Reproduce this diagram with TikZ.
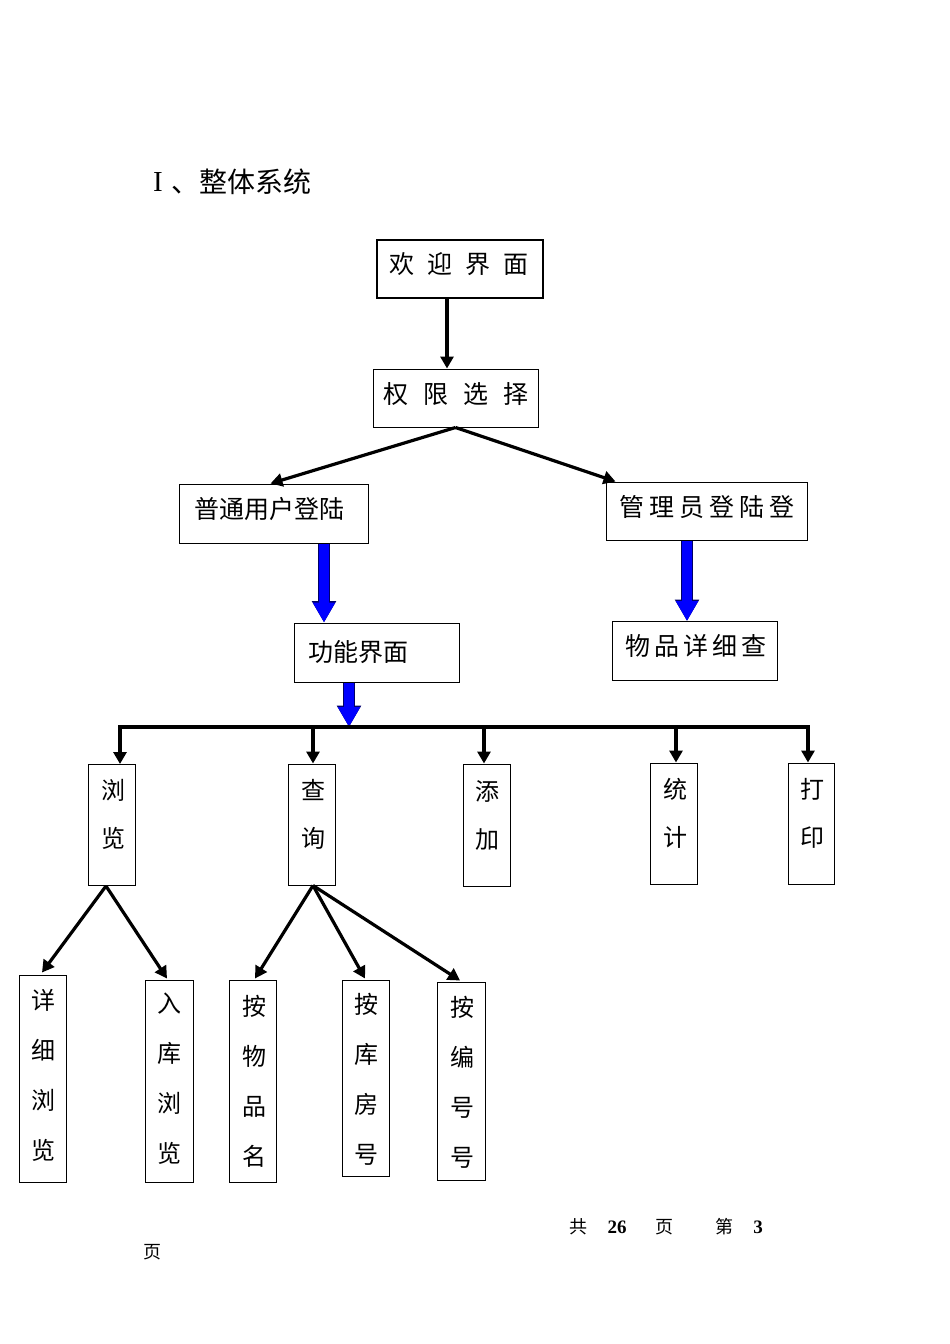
\documentclass[tikz,border=0pt]{standalone}
\usepackage{fontspec}
\setmainfont{Liberation Serif}
\newfontfamily\cjk{Noto Sans CJK SC}
\usetikzlibrary{arrows.meta,calc}
\newcommand\mygap[1]{\hspace{#1pt}}
\begin{document}
\begin{tikzpicture}[x=1pt,y=-1pt,
  box/.style={draw, line width=1pt, inner sep=0pt},
  ht/.style={font=\cjk\fontsize{25}{30}\selectfont, inner sep=0pt},
  vt/.style={font=\cjk\fontsize{24}{50}\selectfont, inner sep=0pt, align=center},
  vtb/.style={font=\cjk\fontsize{24}{48}\selectfont, inner sep=0pt, align=center},
  arr/.style={line width=3.2pt, -{Triangle[length=12pt,width=13pt]}},
  bus/.style={line width=3.4pt},
  fat/.style={line width=10pt, draw=blue, -{Triangle[length=20pt,width=21pt]},
    preaction={draw=blue!40!black, line width=11.5pt, -{Triangle[length=21.5pt,width=23pt]}}},
  foot/.style={font=\cjk\fontsize{18}{20}\selectfont, inner sep=0pt},
  footnum/.style={font=\bfseries\fontsize{19}{20}\selectfont, inner sep=0pt},
  ttl/.style={font=\cjk\fontsize{28}{30}\selectfont, inner sep=0pt}
]
\useasboundingbox (0,0) rectangle (950,1344);

% title
\node[font=\fontsize{29}{30}\selectfont, inner sep=0pt] (tI) at (158,182) {I};
\node[ttl, anchor=west] (ttext) at (171,182) {、整体系统};

% boxes
\node[box, line width=1.6pt, minimum width=166, minimum height=58] (welcome) at (460,269) {};
\node[box, minimum width=165, minimum height=58] (perm) at (455.5,398) {};
\node[box, minimum width=189, minimum height=59] (user) at (273.5,513.5) {};
\node[box, minimum width=201, minimum height=58] (admin) at (706.5,511) {};
\node[box, minimum width=165, minimum height=59] (func) at (376.5,652.5) {};
\node[box, minimum width=165, minimum height=59] (item) at (694.5,651) {};

\node[box, minimum width=47, minimum height=121] (browse) at (111.5,825) {};
\node[box, minimum width=47, minimum height=121] (query) at (311.5,824.5) {};
\node[box, minimum width=47, minimum height=122] (add) at (486.5,825) {};
\node[box, minimum width=47, minimum height=121] (stat) at (673.5,823.5) {};
\node[box, minimum width=46, minimum height=121] (print) at (811,823.5) {};

\node[box, minimum width=47, minimum height=207] (b1) at (43,1078.5) {};
\node[box, minimum width=48, minimum height=202] (b2) at (169,1081) {};
\node[box, minimum width=47, minimum height=202] (q1) at (252.5,1081) {};
\node[box, minimum width=47, minimum height=196] (q2) at (365.5,1078) {};
\node[box, minimum width=48, minimum height=198] (q3) at (461,1081) {};

% horizontal texts
\node[ht] (twelcome) at (459,264) {欢\mygap{13}迎\mygap{13}界\mygap{13}面};
\node[ht] (tperm) at (456,394) {权\mygap{15}限\mygap{15}选\mygap{15}择};
\node[ht] (tuser) at (269,509) {普通用户登陆};
\node[ht] (tadmin) at (706.5,507) {管\mygap{5}理\mygap{5}员\mygap{5}登\mygap{5}陆\mygap{5}登};
\node[ht] (tfunc) at (358,652) {功能界面};
\node[ht] (titem) at (696,646) {物\mygap{4}品\mygap{4}详\mygap{4}细\mygap{4}查};

% vertical texts
\node[vtb] (tbrowse) at (113,814) {浏\\览};
\node[vtb] (tquery) at (313,814) {查\\询};
\node[vtb] (tadd) at (487,815) {添\\加};
\node[vtb] (tstat) at (675,813) {统\\计};
\node[vtb] (tprint) at (812,813) {打\\印};

\node[vt] (tb1) at (43,1075) {详\\细\\浏\\览};
\node[vt] (tb2) at (169,1079) {入\\库\\浏\\览};
\node[vt] (tq1) at (254,1081) {按\\物\\品\\名};
\node[vt] (tq2) at (366,1079) {按\\库\\房\\号};
\node[vt] (tq3) at (462,1082) {按\\编\\号\\号};

% connectors
\draw[arr] ($(welcome.south)+(-13,0)$) -- ($(perm.north)+(-8.5,0)$);
\draw[arr] (perm.south) -- ($(user.north)+(-3,0)$);
\draw[arr] (perm.south) -- ($(admin.north west)+(10,0)$);

\draw[fat] ($(user.south)+(50.5,0)$) -- ($(func.north)+(-52.5,0)$);
\draw[fat] ($(admin.south)+(-19.5,0)$) -- ($(item.north)+(-7.5,0)$);

\coordinate (hub) at (349,727);
\coordinate (barL) at (120,727);
\coordinate (barR) at (808,727);
\draw[fat] ($(func.south)+(-27.5,0)$) -- (hub);
\draw[bus, line cap=rect] (barL) -- (barR);
\draw[arr] (barL) -- (barL |- browse.north);
\draw[arr] ($(query.north |- barL)+(1.5,0)$) -- ($(query.north)+(1.5,0)$);
\draw[arr] ($(add.north |- barL)+(-2.5,0)$) -- ($(add.north)+(-2.5,0)$);
\draw[arr] ($(stat.north |- barL)+(2.5,0)$) -- ($(stat.north)+(2.5,0)$);
\draw[arr] (barR) -- (barR |- print.north);

\draw[arr] ($(browse.south)+(-5.5,0)$) -- ($(b1.north)+(-1,-2)$);
\draw[arr] ($(browse.south)+(-5.5,0)$) -- ($(b2.north)+(-2,-1)$);
\draw[arr] ($(query.south)+(1.5,0)$) -- ($(q1.north)+(2.5,-1)$);
\draw[arr] ($(query.south)+(1.5,0)$) -- ($(q2.north)+(-0.5,-1)$);
\draw[arr] ($(query.south)+(1.5,0)$) -- ($(q3.north)+(-1,-1)$);

% footer
\node[foot] (f1) at (578,1227) {共};
\node[footnum] (f2) at (617,1227) {26};
\node[foot] (f3) at (664,1227) {页};
\node[foot] (f4) at (724,1227) {第};
\node[footnum] (f5) at (758,1227) {3};
\node[foot] (f6) at (152,1252) {页};
\end{tikzpicture}
\end{document}
